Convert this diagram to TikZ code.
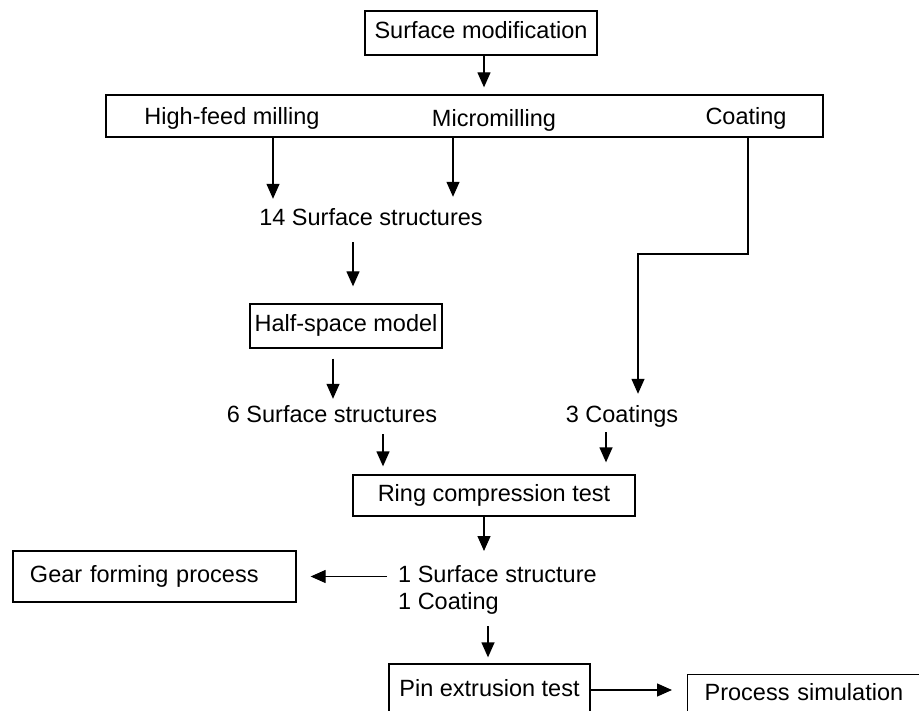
\documentclass[tikz,border=0pt]{standalone}
\usepackage{fontspec}
\setmainfont{Liberation Sans}
\usetikzlibrary{arrows.meta}

\begin{document}
\begin{tikzpicture}[x=1pt, y=-1pt,
          box/.style={rectangle, draw, line width=1.3pt, inner sep=0pt,
            text height=17pt, text depth=5pt, font=\fontsize{23.5}{27}\selectfont},
          txt/.style={inner sep=0pt, text height=17pt, text depth=5pt,
            font=\fontsize{23.5}{27}\selectfont},
          arr/.style={-{Triangle[width=13pt,length=15pt]}, line width=1.3pt}]

        \useasboundingbox (0,0) rectangle (919,711);
        \clip (0,0) rectangle (919,711);

        \node[box, minimum width=232pt, minimum height=44pt] (modif) at (481,33) {Surface modification};

        \node[box, minimum width=717pt, minimum height=42pt] (methods) at (464.5,116) {};
        \node[txt] (hfm)   at (232,119) {High-feed milling};
        \node[txt] (micro) at (494,121) {Micromilling};
        \node[txt] (coat)  at (746,119) {Coating};

        \node[txt] (s14) at (371,220) {14 Surface structures};
        \node[box, minimum width=192pt, minimum height=44pt] (halfsp) at (346,326) {Half-space model};
        \node[txt] (s6) at (332,416) {6 Surface structures};
        \node[txt] (c3) at (622,416) {3 Coatings};

        \node[box, minimum width=282pt, minimum height=41pt] (ring) at (494,495.5) {Ring compression test};
        \node[txt, text height=, text depth=, align=left, anchor=north west] (best) at (398,565)
          {1 Surface structure\\1 Coating};
        \node[box, minimum height=51pt, inner xsep=17pt, text width=249pt, align=left] (gear)
          at (154.5,576.5) {Gear forming process};
        \node[box, minimum width=201pt, minimum height=52pt] (pin) at (489.5,690) {Pin extrusion test};
        \node[box, minimum height=40pt, inner xsep=17pt, text width=230pt, align=left,
          anchor=north west] (sim) at (687,674) {Process simulation};

        % columns of the vertical arrows
        \coordinate (hfmcol)   at (273,0);
        \coordinate (microcol) at (453,0);
        \coordinate (halfcol)  at (353,0);
        \coordinate (s6col)    at (333,0);
        \coordinate (ringcol)  at (383,0);
        \coordinate (c3col)    at (606,0);
        \coordinate (maincol)  at (484,0);
        \coordinate (pincol)   at (488,0);
        \coordinate (cdrop)    at (748,254);
        \coordinate (cbend)    at (638,254);

        \draw[arr, shorten >=7pt] (modif.south -| maincol) -- (methods.north -| maincol);

        \draw[arr, shorten >=10pt] (methods.south -| hfmcol)   -- (s14.north -| hfmcol);
        \draw[arr, shorten >=12pt] (methods.south -| microcol) -- (s14.north -| microcol);
        \draw[arr, shorten >=11pt] (methods.south -| cdrop) -- (cdrop) -- (cbend) -- (c3.north -| cbend);

        \draw[arr, shorten <=11pt, shorten >=17pt] (s14.south -| halfcol) -- (halfsp.north -| halfcol);
        \draw[arr, shorten <=10pt, shorten >=6pt]  (halfsp.south -| s6col) -- (s6.north -| s6col);

        \draw[arr, shorten <=7pt, shorten >=8pt]  (s6.south -| ringcol) -- (ring.north -| ringcol);
        \draw[arr, shorten <=5pt, shorten >=12pt] (c3.south -| c3col)   -- (ring.north -| c3col);

        \draw[arr, shorten >=14pt] (ring.south -| maincol) -- (best.north -| maincol);
        \draw[arr, shorten <=11pt, shorten >=14pt] (gear -| best.west) -- (gear.east);
        \draw[arr, shorten <=12pt, shorten >=6pt] (best.south -| pincol) -- (pin.north -| pincol);
        \draw[arr, shorten >=15pt] (pin.east) -- (sim.west |- pin.east);

      \end{tikzpicture}
\end{document}
